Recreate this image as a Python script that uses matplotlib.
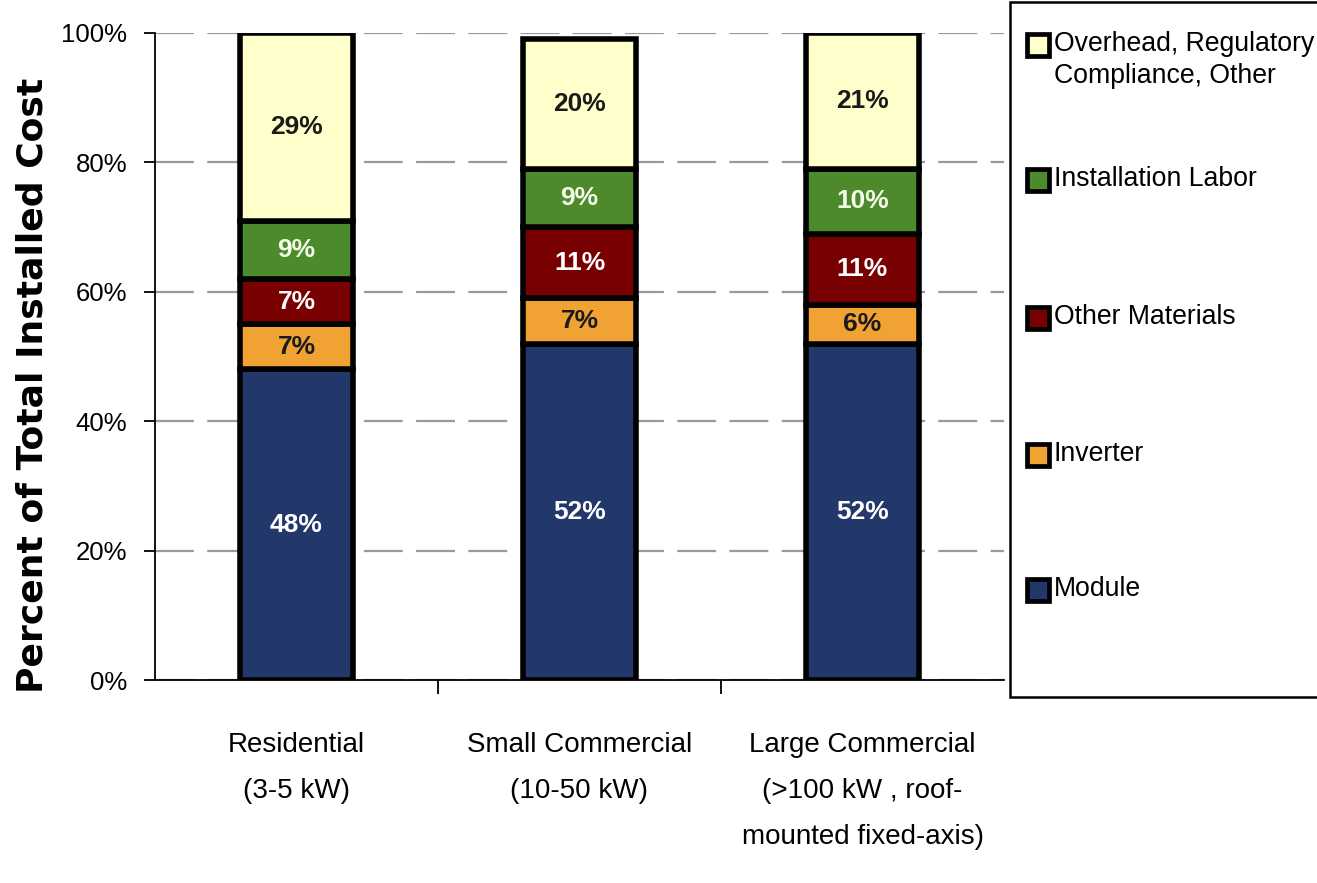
import matplotlib
matplotlib.use("Agg")
import matplotlib.pyplot as plt
from matplotlib.patches import Rectangle
import numpy as np

# ---- data -------------------------------------------------------------
categories = ["Residential\n(3-5 kW)",
              "Small Commercial\n(10-50 kW)",
              "Large Commercial\n(>100 kW , roof-\nmounted fixed-axis)"]
components = ["Module", "Inverter", "Other Materials",
              "Installation Labor", "Overhead, Regulatory\nCompliance, Other"]
module = [48, 52, 52]
inverter = [7, 7, 6]
other_materials = [7, 11, 11]
installation_labor = [9, 9, 10]
overhead = [29, 20, 21]
yticks = [0, 20, 40, 60, 80, 100]

series = [module, inverter, other_materials, installation_labor, overhead]
colors = ["#22376A", "#F0A232", "#780000", "#4D8A2B", "#FFFFCC"]
label_colors = ["white", "#1a1a1a", "white", "#F4FBE8", "#1a1a1a"]

SANS = ["Liberation Sans", "DejaVu Sans"]

W, H = 1317, 883
fig = plt.figure(figsize=(W / 100, H / 100), dpi=100)


def fx(px):
    return px / W


def fy(py):
    return 1 - py / H


ax = fig.add_axes([fx(155), fy(680), fx(1004) - fx(155), fy(33) - fy(680)])

x = np.arange(len(categories))
bottom = np.zeros(len(categories))
for vals, col, tcol in zip(series, colors, label_colors):
    vals = np.array(vals, dtype=float)
    ax.bar(x, vals, width=0.40, bottom=bottom, color=col,
           edgecolor="black", linewidth=4, zorder=3)
    for xi, b, v in zip(x, bottom, vals):
        ax.text(xi, b + v / 2, f"{int(v)}%", ha="center", va="center",
                color=tcol, fontsize=19, fontweight="bold", family=SANS,
                zorder=4)
    bottom += vals

ax.set_xlim(-0.5, 2.5)
ax.set_ylim(0, 100)
ax.set_yticks(yticks)
ax.set_yticklabels([f"{t}%" for t in yticks], family=SANS, fontsize=18.5)
ax.tick_params(axis="y", length=8, width=1.3, pad=12, color="black")
ax.set_xticks([])
ax.set_xticks([0.5, 1.5], minor=True)
ax.tick_params(axis="x", which="minor", length=10, width=1.3, direction="out")

for yv in yticks:
    ax.axhline(yv, color="#9a9a9a", linewidth=1.6,
               linestyle=(0, (17.5, 6.0)), zorder=1)

for s in ["top", "right"]:
    ax.spines[s].set_visible(False)
for s in ["left", "bottom"]:
    ax.spines[s].set_linewidth(1.3)

# y-axis title
fig.text(fx(33), fy(385), "Percent of Total Installed Cost", rotation=90,
         ha="center", va="center", fontsize=26, fontweight="bold",
         family="DejaVu Sans")

# category labels under each bar
for xi, name in zip(x, categories):
    ax.text(xi, -0.08, name, transform=ax.get_xaxis_transform(),
            ha="center", va="top", fontsize=20, family=SANS,
            linespacing=2.0, multialignment="center")

# legend box on the right
fig.patches.append(Rectangle((fx(1010), fy(697)), fx(1340) - fx(1010),
                             fy(2) - fy(697), transform=fig.transFigure,
                             facecolor="white", edgecolor="black",
                             linewidth=1.8, zorder=0))
legend_y = [590, 455, 318, 180, 45]
for name, col, ly in zip(components, colors, legend_y):
    fig.patches.append(Rectangle((fx(1027), fy(ly + 11)), fx(1049) - fx(1027),
                                 fy(ly - 11) - fy(ly + 11),
                                 transform=fig.transFigure, facecolor=col,
                                 edgecolor="black", linewidth=3.4, zorder=2))
    fig.text(fx(1054), fy(ly - 14), name, ha="left", va="top",
             fontsize=19.2, family=SANS, linespacing=1.3, zorder=3)

fig.savefig("out.png", dpi=100)
